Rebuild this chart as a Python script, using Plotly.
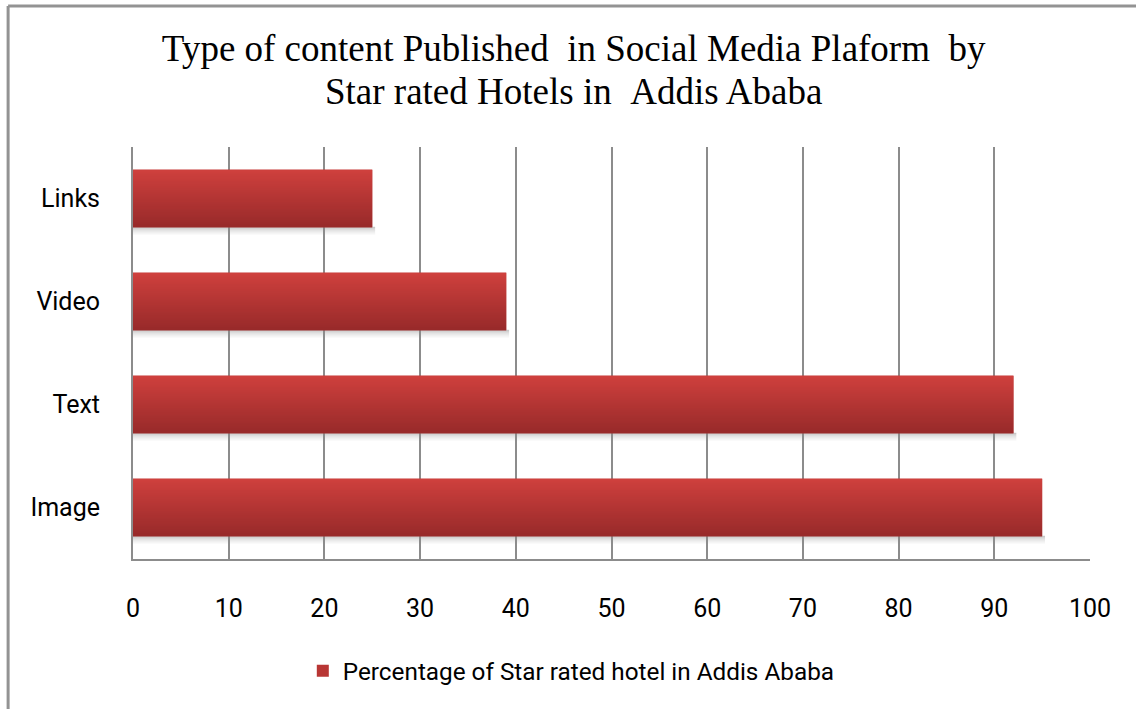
import base64
import struct
import zlib

import plotly.graph_objects as go

# Content types and share of star-rated hotels publishing each one (%)
categories = ["Image", "Text", "Video", "Links"]
percentages = [95, 92, 39, 25]
x_ticks = [0, 10, 20, 30, 40, 50, 60, 70, 80, 90, 100]

series_name = "Percentage of Star rated hotel in Addis Ababa"
title_lines = [
    "Type of content Published \u00a0in Social Media Plaform \u00a0by",
    "Star rated Hotels in \u00a0Addis Ababa",
]

BAR_WIDTH = 0.56
GRID = "#8c8c8c"
LABEL_FONT = "Roboto, Liberation Sans, sans-serif"


def png_data_uri(rows, width=2):
    """Encode a vertical strip of RGBA rows as a PNG data URI."""
    raw = b"".join(b"\x00" + bytes(px) * width for px in rows)

    def chunk(tag, data):
        body = tag + data
        return struct.pack(">I", len(data)) + body + struct.pack(">I", zlib.crc32(body) & 0xFFFFFFFF)

    ihdr = struct.pack(">IIBBBBB", width, len(rows), 8, 6, 0, 0, 0)
    png = b"\x89PNG\r\n\x1a\n" + chunk(b"IHDR", ihdr) + chunk(b"IDAT", zlib.compress(raw)) + chunk(b"IEND", b"")
    return "data:image/png;base64," + base64.b64encode(png).decode()


def lerp(a, b, t):
    return round(a + (b - a) * t)


# Shading: lighter red on top, darker red at the bottom of each bar
top_rgb, bottom_rgb = (207, 64, 61), (152, 42, 42)
n = 48
shade_rows = [tuple(lerp(top_rgb[k], bottom_rgb[k], i / (n - 1)) for k in range(3)) + (255,) for i in range(n)]
shade_uri = png_data_uri(shade_rows)

# Soft drop shadow fading downward
shadow_rows = [(110, 110, 110, lerp(120, 0, (i / (n - 1)) ** 0.6)) for i in range(n)]
shadow_uri = png_data_uri(shadow_rows)

positions = list(range(len(categories)))

fig = go.Figure()
fig.add_trace(
    go.Bar(
        x=percentages,
        y=positions,
        orientation="h",
        width=BAR_WIDTH,
        marker=dict(color="#b83634", line=dict(width=0)),
        name=series_name,
        showlegend=True,
        hoverinfo="x+text",
        text=categories,
        textposition="none",
    )
)

images = []
for pos, val in zip(positions, percentages):
    images.append(
        dict(
            source=shadow_uri, xref="x", yref="y",
            x=0, y=pos - BAR_WIDTH / 2 + 0.005,
            sizex=val + 0.3, sizey=0.085,
            xanchor="left", yanchor="top", sizing="stretch", layer="below",
        )
    )
    images.append(
        dict(
            source=shade_uri, xref="x", yref="y",
            x=0, y=pos + BAR_WIDTH / 2,
            sizex=val, sizey=BAR_WIDTH,
            xanchor="left", yanchor="top", sizing="stretch", layer="above",
        )
    )

# Frame around the chart (left and top edges)
frame = dict(type="line", xref="paper", yref="paper", line=dict(color="#939393", width=3))
shapes = [
    dict(frame, x0=-0.1305, x1=-0.1305, y0=-0.6, y1=1.342),
    dict(frame, x0=-0.1305, x1=1.2, y0=1.342, y1=1.342),
]

# Title glyphs at 37px with the line pitch of a 33px font
title_text = "<br>".join('<span style="font-size:37px">%s</span>' % line for line in title_lines)

fig.update_layout(
    width=1136,
    height=709,
    margin=dict(l=133, r=46, t=147, b=150),
    paper_bgcolor="white",
    plot_bgcolor="white",
    title=dict(
        text=title_text,
        x=0.505, xref="container", xanchor="center",
        y=0.914, yref="container", yanchor="top",
        font=dict(family="Liberation Serif, Times New Roman, serif", size=33, color="black"),
    ),
    xaxis=dict(
        range=[0, 100],
        tickvals=x_ticks,
        ticktext=[str(t) for t in x_ticks],
        showgrid=True,
        gridcolor=GRID,
        gridwidth=2,
        showline=True,
        linecolor=GRID,
        linewidth=2,
        zeroline=False,
        ticks="",
        ticklabelstandoff=26,
        tickfont=dict(family=LABEL_FONT, size=25, color="black"),
        fixedrange=True,
    ),
    yaxis=dict(
        range=[-0.5, len(categories) - 0.5],
        tickvals=positions,
        ticktext=categories,
        showgrid=False,
        showline=True,
        linecolor=GRID,
        linewidth=2,
        zeroline=False,
        ticks="",
        ticklabelstandoff=26,
        tickfont=dict(family=LABEL_FONT, size=25, color="black"),
        fixedrange=True,
    ),
    legend=dict(
        orientation="h",
        x=0.458, xanchor="center",
        y=-0.272, yanchor="middle",
        font=dict(family=LABEL_FONT, size=24.3, color="black"),
        bgcolor="rgba(0,0,0,0)",
    ),
    images=images,
    shapes=shapes,
)

fig.write_html("out.html")
